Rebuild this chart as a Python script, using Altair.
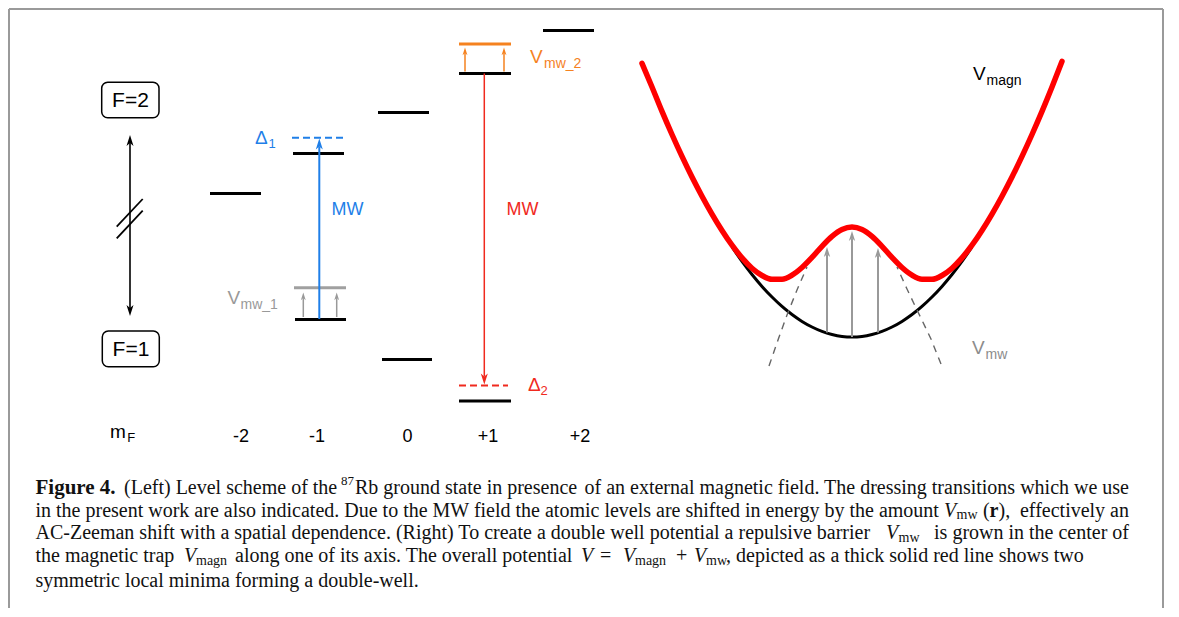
import altair as alt
import pandas as pd

# ---------------- data (diagram coordinates = page pixels) ----------------
# energy levels, left panel
level_x1 = [210, 293, 378, 459, 543, 295, 382, 459]
level_x2 = [261, 344, 429, 511, 594, 346, 432, 511]
level_y = [193.5, 153.5, 112.5, 73.5, 30.5, 319.5, 359.5, 401]

# shifted (dressed) levels
shift_x1 = [294, 459]
shift_x2 = [346, 511]
shift_y = [287.7, 44]
shift_color = ["#a0a0a0", "#f5821f"]

# detuned (dashed) levels
det_x1 = [292, 459]
det_x2 = [343, 508]
det_y = [137.7, 385.5]
det_color = ["#1f7fe8", "#f02a1e"]

# arrows: x, start, tip, colour, line width, head unit
arrow_x = [130, 130, 319.3, 484.3, 303.3, 336.7, 465, 504, 827, 852, 878]
arrow_from = [225, 225, 319, 73.5, 317, 317, 71.5, 71.5, 332.5, 337, 332.5]
arrow_tip = [135, 316, 138.5, 384.5, 292.5, 292.5, 47.5, 47.5, 247, 231, 248]
arrow_color = ["#000000", "#000000", "#1f7fe8", "#f02a1e", "#999999", "#999999",
               "#f5821f", "#f5821f", "#999999", "#999999", "#999999"]
arrow_width = [1.6, 1.6, 2, 1.5, 1.5, 1.5, 1.5, 1.5, 2, 2, 2]
arrow_unit = [5, 5, 5, 5, 3.5, 3.5, 3.5, 3.5, 4.5, 4.5, 4.5]

# break marks on the F arrow
slash_x1 = [116.7, 116.7]
slash_y1 = [226.7, 238.3]
slash_x2 = [142.7, 142.7]
slash_y2 = [199, 210.7]

# F boxes
box_x1 = [101.7, 102.3]
box_x2 = [159, 159.3]
box_y1 = [82.3, 331]
box_y2 = [117.7, 366.7]

# right panel curves
red_x = [642, 652, 662, 672, 682, 692, 702, 712, 722, 732, 742, 752, 762, 772, 782,
         792, 802, 812, 822, 832, 842, 852, 862, 872, 882, 892, 902, 912, 922, 932,
         942, 952, 962, 972, 982, 992, 1002, 1012, 1022, 1032, 1042, 1052, 1062]
red_y = [63.4, 87, 111.4, 134.5, 156.4, 177, 196.2, 214.1, 230.5, 245.2, 257.9,
         268.2, 275.5, 279.3, 279.3, 275.2, 267.5, 257.4, 246.3, 236.4, 229.5, 227,
         229.5, 236.4, 246.3, 257.4, 267.5, 275.2, 279.3, 279.3, 275.5, 268.2, 257.9,
         245.2, 230.5, 214.1, 196.2, 177, 156.4, 134.5, 111.4, 87, 61.4]
black_x = [732, 742, 752, 762, 772, 782, 792, 802, 812, 822, 832, 842, 852, 862, 872,
           882, 892, 902, 912, 922, 932, 942, 952, 962, 972]
black_y = [247, 261.4, 274.5, 286.4, 297, 306.4, 314.5, 321.4, 327, 331.4, 334.5,
           336.4, 337, 336.4, 334.5, 331.4, 327, 321.4, 314.5, 306.4, 297, 286.4,
           274.5, 261.4, 247]
mwl_x = [769, 778, 787, 797, 807]
mwl_y = [366, 340, 315, 290, 267]
mwr_x = [941, 931, 918, 907, 897]
mwr_y = [364, 339, 312, 289, 267]

# frame
frame_x1 = [9, 9, 1163]
frame_x2 = [1163, 9, 1163]
frame_y1 = [9, 9, 9]
frame_y2 = [9, 608, 608]

SANS = "Liberation Sans"
SERIF = "Liberation Serif"
BLUE, RED, ORANGE, GRAY = "#1f7fe8", "#f02a1e", "#f5821f", "#999999"

# labels: x, y, text, size, colour, font, weight, style, align
labels = [
    (130.5, 100.5, "F=2", 21, "#000", SANS, "normal", "normal", "center"),
    (131, 349.5, "F=1", 21, "#000", SANS, "normal", "normal", "center"),
    (255, 138, "Δ", 19, BLUE, SANS, "normal", "normal", "left"),
    (268.5, 144, "1", 13, BLUE, SANS, "normal", "normal", "left"),
    (331.5, 210, "MW", 18, BLUE, SANS, "normal", "normal", "left"),
    (227.5, 298, "V", 19, GRAY, SANS, "normal", "normal", "left"),
    (240.5, 305, "mw_1", 14, GRAY, SANS, "normal", "normal", "left"),
    (530, 56.5, "V", 19, ORANGE, SANS, "normal", "normal", "left"),
    (544, 63.5, "mw_2", 14, ORANGE, SANS, "normal", "normal", "left"),
    (528, 385, "Δ", 19, RED, SANS, "normal", "normal", "left"),
    (540.5, 391, "2", 13, RED, SANS, "normal", "normal", "left"),
    (506.5, 210, "MW", 18, RED, SANS, "normal", "normal", "left"),
    (110, 432, "m", 19, "#000", SANS, "normal", "normal", "left"),
    (127.3, 437.5, "F", 13, "#000", SANS, "normal", "normal", "left"),
    (241, 437, "-2", 18, "#000", SANS, "normal", "normal", "center"),
    (317, 437, "-1", 18, "#000", SANS, "normal", "normal", "center"),
    (407.5, 437, "0", 18, "#000", SANS, "normal", "normal", "center"),
    (488, 437, "+1", 18, "#000", SANS, "normal", "normal", "center"),
    (580, 437, "+2", 18, "#000", SANS, "normal", "normal", "center"),
    (973, 74, "V", 19, "#000", SANS, "normal", "normal", "left"),
    (986.5, 81, "magn", 14, "#000", SANS, "normal", "normal", "left"),
    (972, 347.5, "V", 19, "#8c8c8c", SANS, "normal", "normal", "left"),
    (985.5, 354.5, "mw", 14, "#8c8c8c", SANS, "normal", "normal", "left"),
]

C = "#111111"
caption = [
    (35.5, 488, "Figure 4.", 21, C, SERIF, "bold", "normal", "left"),
    (124, 488, "(Left) Level scheme of the", 20, C, SERIF, "normal", "normal", "left"),
    (341, 481, "87", 13, C, SERIF, "normal", "normal", "left"),
    (355, 488, "Rb ground state in presence", 20, C, SERIF, "normal", "normal", "left"),
    (1129, 488, "of an external magnetic field. The dressing transitions which we use", 20, C, SERIF, "normal", "normal", "right"),
    (35.5, 510.5, "in the present work are also indicated. Due to the MW field the atomic levels are shifted in energy by the amount", 20, C, SERIF, "normal", "normal", "left"),
    (944, 510.5, "V", 20, C, SERIF, "normal", "italic", "left"),
    (956.5, 515, "mw", 14, C, SERIF, "normal", "normal", "left"),
    (983, 510.5, "(", 20, C, SERIF, "normal", "normal", "left"),
    (989.5, 510.5, "r", 20, C, SERIF, "bold", "normal", "left"),
    (998.5, 510.5, "),", 20, C, SERIF, "normal", "normal", "left"),
    (1129, 510.5, "effectively an", 20, C, SERIF, "normal", "normal", "right"),
    (35.5, 533, "AC-Zeeman shift with a spatial dependence. (Right) To create a double well potential a repulsive barrier", 20, C, SERIF, "normal", "normal", "left"),
    (886, 533, "V", 20, C, SERIF, "normal", "italic", "left"),
    (898.5, 537.5, "mw", 14, C, SERIF, "normal", "normal", "left"),
    (1129, 533, "is grown in the center of", 20, C, SERIF, "normal", "normal", "right"),
    (35.5, 556, "the magnetic trap", 20, C, SERIF, "normal", "normal", "left"),
    (184, 556, "V", 20, C, SERIF, "normal", "italic", "left"),
    (196, 560.5, "magn", 14, C, SERIF, "normal", "normal", "left"),
    (235, 556, "along one of its axis. The overall potential", 20, C, SERIF, "normal", "normal", "left"),
    (581, 556, "V", 20, C, SERIF, "normal", "italic", "left"),
    (600, 556, "=", 20, C, SERIF, "normal", "normal", "left"),
    (623, 556, "V", 20, C, SERIF, "normal", "italic", "left"),
    (635, 560.5, "magn", 14, C, SERIF, "normal", "normal", "left"),
    (676, 556, "+", 20, C, SERIF, "normal", "normal", "left"),
    (694, 556, "V", 20, C, SERIF, "normal", "italic", "left"),
    (706, 560.5, "mw", 14, C, SERIF, "normal", "normal", "left"),
    (726, 556, ",", 20, C, SERIF, "normal", "normal", "left"),
    (736, 556, "depicted as a thick solid red line shows two", 20, C, SERIF, "normal", "normal", "left"),
    (35.5, 580.5, "symmetric local minima forming a double-well.", 20, C, SERIF, "normal", "normal", "left"),
]

# ---------------- scales ----------------
XS = alt.Scale(domain=[8, 1171], nice=False, zero=False)
YS = alt.Scale(domain=[8, 609], nice=False, zero=False, reverse=True)


def X(f="x"):
    return alt.X(f"{f}:Q", scale=XS, axis=None)


def Y(f="y"):
    return alt.Y(f"{f}:Q", scale=YS, axis=None)


def seg_layer(df, **mark):
    return alt.Chart(df).mark_rule(**mark).encode(
        x=X(), x2="x2:Q", y=Y(), y2="y2:Q",
        color=alt.Color("color:N", scale=None),
        strokeWidth=alt.StrokeWidth("w:Q", scale=None),
    )


# frame
frame = pd.DataFrame({"x": frame_x1, "x2": frame_x2, "y": frame_y1, "y2": frame_y2,
                      "color": "#9a9a9a", "w": 2})

# solid segments: levels, shifted levels, slashes
segs = []
for a, b, y in zip(level_x1, level_x2, level_y):
    segs.append((a, b, y, y, "#000000", 3))
for a, b, y, c in zip(shift_x1, shift_x2, shift_y, shift_color):
    segs.append((a, b, y, y, c, 3))
for a, b, c, d in zip(slash_x1, slash_x2, slash_y1, slash_y2):
    segs.append((a, b, c, d, "#000000", 1.8))
# arrow shafts
heads = []
for x, f, t, c, w, u in zip(arrow_x, arrow_from, arrow_tip, arrow_color, arrow_width, arrow_unit):
    d = 1 if t > f else -1  # +1 = pointing down
    segs.append((x, x, f, t - d * 1.6 * u, c, w))
    heads.append((x, t, c, 180 if d == 1 else 0, (2 * u) ** 2))
solid = pd.DataFrame(segs, columns=["x", "x2", "y", "y2", "color", "w"])
dashed = pd.DataFrame({"x": det_x1, "x2": det_x2, "y": det_y, "y2": det_y,
                       "color": det_color, "w": 2})
heads = pd.DataFrame(heads, columns=["x", "y", "color", "angle", "size"])

boxes = pd.DataFrame({"x": box_x1, "x2": box_x2, "y": box_y1, "y2": box_y2})

red = pd.DataFrame({"x": red_x, "y": red_y})
black = pd.DataFrame({"x": black_x, "y": black_y})
mw = pd.concat([pd.DataFrame({"x": mwl_x, "y": mwl_y, "s": "l"}),
                pd.DataFrame({"x": mwr_x, "y": mwr_y, "s": "r"})])

layers = [
    seg_layer(frame),
    alt.Chart(boxes).mark_rect(cornerRadius=6, fill="white", stroke="black", strokeWidth=1.5)
    .encode(x=X(), x2="x2:Q", y=Y(), y2="y2:Q"),
    alt.Chart(black).mark_line(color="black", strokeWidth=3, interpolate="monotone")
    .encode(x=X(), y=Y()),
    alt.Chart(mw).mark_line(color="#666666", strokeWidth=1.4, strokeDash=[7, 6])
    .encode(x=X(), y=Y(), detail="s:N", order=alt.Order("y:Q", sort="descending")),
    seg_layer(solid),
    seg_layer(dashed, strokeDash=[7, 4]),
    alt.Chart(red).mark_line(color="#ff0000", strokeWidth=5.5, interpolate="monotone",
                             strokeCap="round").encode(x=X(), y=Y()),
    alt.Chart(heads).mark_point(shape="M0,0L0.7,2.2L0,1.6L-0.7,2.2Z", filled=True,
                                opacity=1, strokeWidth=0)
    .encode(x=X(), y=Y(), color=alt.Color("color:N", scale=None),
            angle=alt.Angle("angle:Q", scale=None), size=alt.Size("size:Q", scale=None)),
]

tdf = pd.DataFrame(labels + caption,
                   columns=["x", "y", "text", "size", "color", "font", "weight", "style", "align"])
for (font, weight, style, align), g in tdf.groupby(["font", "weight", "style", "align"]):
    layers.append(
        alt.Chart(g.reset_index(drop=True)).mark_text(
            font=font, fontWeight=weight, fontStyle=style, align=align, baseline="middle")
        .encode(x=X(), y=Y(), text="text:N",
                size=alt.Size("size:Q", scale=None), color=alt.Color("color:N", scale=None))
    )

chart = alt.layer(*layers).properties(
    width=1163, height=601,
    autosize=alt.AutoSizeParams(type="fit", contains="padding"),
    padding=0, background="white",
).configure_view(strokeWidth=0)

chart.save("out.html", embed_options={"renderer": "svg", "actions": False})
